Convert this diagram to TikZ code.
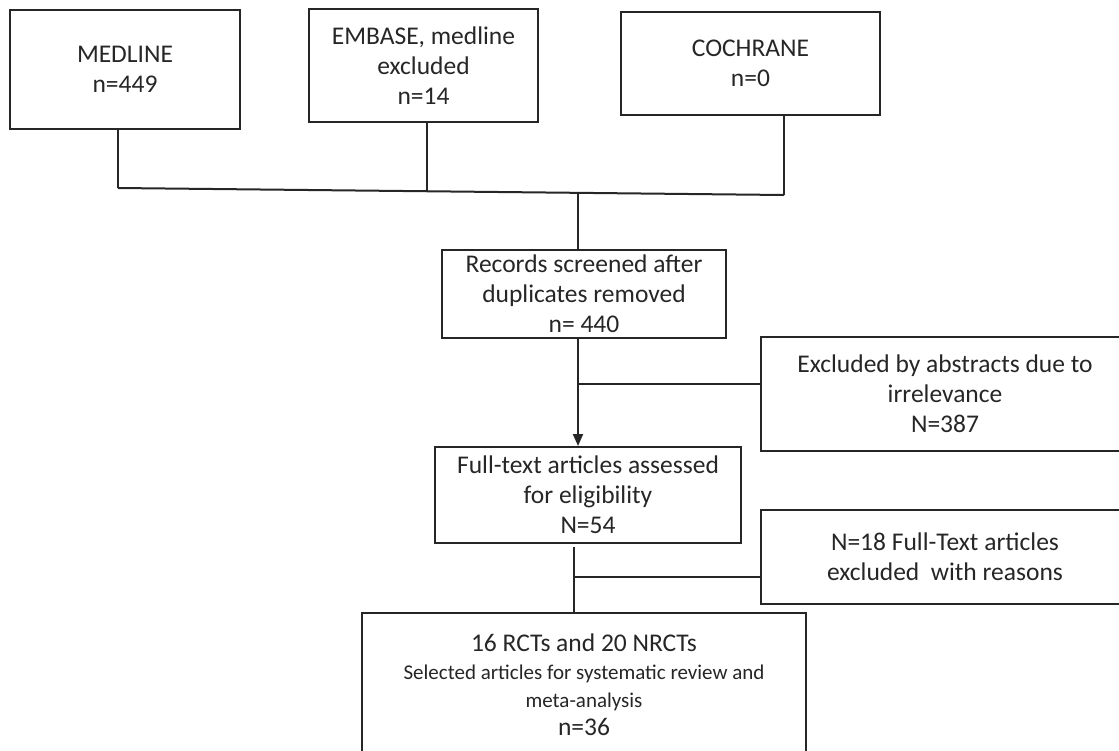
\documentclass[tikz,border=0pt]{standalone}
\usepackage{fontspec}
\setmainfont{Carlito}
\usetikzlibrary{arrows.meta}
\newcommand{\smalltxt}{\fontsize{10.5}{14}\selectfont}

\begin{document}
\begin{tikzpicture}[x=0.5pt,y=-0.5pt,color=black!85]
		\clip (0,0) rectangle (1119,750);
		\begin{scope}[every node/.style={rectangle,draw,line width=1pt,inner sep=0pt,align=center,
			font=\fontsize{12.75}{15}\selectfont}]
			\node[minimum width=115pt,minimum height=59.5pt] (MED) at (125,69.5) {MEDLINE\\n=449};
			\node[minimum width=114.5pt,minimum height=56.5pt] (EMB) at (423.5,65.5) {EMBASE, medline\\excluded\\n=14};
			\node[minimum width=129.5pt,minimum height=51.5pt] (COC) at (750.5,63.5) {COCHRANE\\n=0};
			\node[minimum width=142pt,minimum height=44pt] (REC) at (584,294) {Records screened after\\duplicates removed\\n= 440};
			\node[minimum width=184pt,minimum height=57pt] (EXA) at (945,394) {Excluded by abstracts due to\\irrelevance\\N=387};
			\node[minimum width=153pt,minimum height=48pt] (FUL) at (588,495) {Full-text articles assessed\\for eligibility\\N=54};
			\node[minimum width=184pt,minimum height=47pt] (EXF) at (945,557) {N=18 Full-Text articles\\excluded\ \ with reasons};
			\node[minimum width=222pt,minimum height=72pt,font=\fontsize{12.75}{14}\selectfont] (SEL) at (584,685)
				{16 RCTs and 20 NRCTs\\{\smalltxt Selected articles for systematic review and}\\{\smalltxt meta-analysis}\\n=36};
		\end{scope}
	
		\begin{scope}[>={Triangle[length=6pt,width=5pt]},line width=1pt]
			\coordinate (j1) at (118,188);
			\coordinate (j2) at (427,191.2);
			\coordinate (j3) at (784,195);
			\coordinate (j4) at (578,192.8);
			\coordinate (j5) at (578,384);
			\coordinate (j6) at (574,547);
			\coordinate (j7) at (574,577);
			\draw (MED.south -| j1) -- (j1);
			\draw (EMB.south -| j2) -- (j2);
			\draw (COC.south -| j3) -- (j3);
			\draw (j1) -- (j3);
			\draw (j4) -- (j4 |- REC.north);
			\draw[->] (REC.south -| j4) -- (FUL.north -| j4);
			\draw (j5) -- (j5 -| EXA.west);
			\draw (j6) -- (j6 |- SEL.north);
			\draw (j7) -- (j7 -| EXF.west);
		\end{scope}
	\end{tikzpicture}
\end{document}
